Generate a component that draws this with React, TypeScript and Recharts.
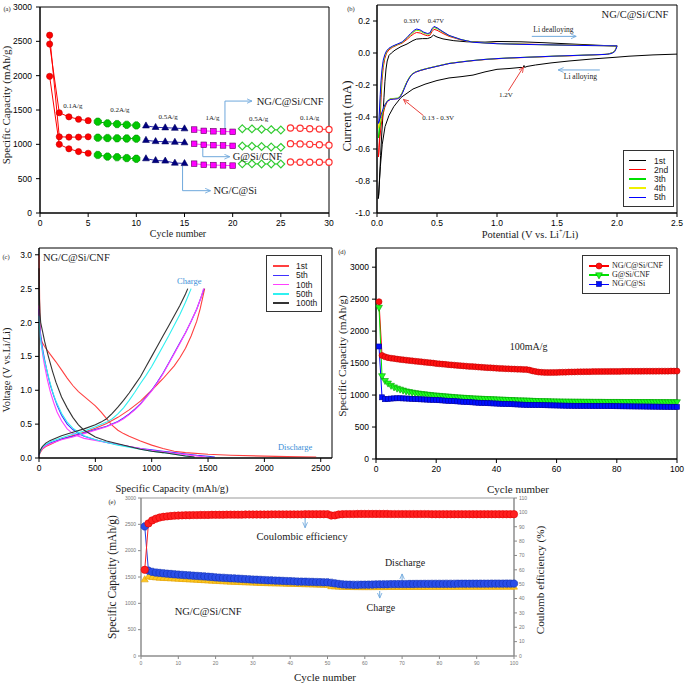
import React from "react";
import { LineChart, Line, XAxis, YAxis, ReferenceArea, ReferenceDot, ReferenceLine } from "recharts";

const SERIF = "'Liberation Serif', 'Times New Roman', serif";
const SANS = "'Liberation Sans Narrow', 'Liberation Sans', Arial, sans-serif";
const NOTE_BLUE = "#6fa8dc";
const NOTE_RED = "#e8413c";
const INK = "#1a1a1a";

type Pt = [number, number];

// ---------- (a) rate capability ----------
const rateCycles = [1, 2, 3, 4, 5, 6, 7, 8, 9, 10, 11, 12, 13, 14, 15, 16, 17, 18, 19, 20, 21, 22, 23, 24, 25, 26, 27, 28, 29, 30];
const rateSteps = ["0.1A/g", "0.2A/g", "0.5A/g", "1A/g", "0.5A/g", "0.1A/g"];
const rateCNF = [2460, 1460, 1400, 1365, 1345, 1330, 1305, 1295, 1285, 1275, 1270, 1248, 1242, 1236, 1228, 1215, 1196, 1190, 1188, 1182, 1228, 1225, 1220, 1214, 1208, 1238, 1234, 1228, 1222, 1216];
const rateGSi = [2590, 1110, 1105, 1105, 1110, 1097, 1092, 1088, 1085, 1082, 1060, 1042, 1038, 1032, 1025, 1008, 993, 988, 984, 978, 976, 972, 968, 962, 956, 1010, 1006, 1000, 994, 988];
const rateNGSi = [1990, 1000, 935, 895, 870, 845, 822, 812, 800, 790, 792, 765, 758, 728, 722, 718, 702, 698, 694, 690, 716, 716, 714, 714, 714, 743, 740, 740, 740, 740];

// ---------- (b) cyclic voltammetry, [V, mA] ----------
const cv1st: Pt[] = [
  [2.5, -0.007], [2.3, -0.012], [2.1, -0.02], [2.0, -0.026], [1.8, -0.037], [1.6, -0.05], [1.45, -0.062], [1.32, -0.075],
  [1.25, -0.084], [1.23, -0.09], [1.225, -0.078], [1.215, -0.094], [1.2, -0.09], [1.1, -0.097], [1.0, -0.102], [0.9, -0.118],
  [0.8, -0.138], [0.7, -0.148], [0.6, -0.156], [0.5, -0.172], [0.4, -0.195], [0.3, -0.225], [0.2, -0.278], [0.14, -0.335],
  [0.1, -0.39], [0.067, -0.46], [0.044, -0.57], [0.028, -0.71], [0.018, -0.82], [0.011, -0.91],
  [0.016, -0.88], [0.022, -0.78], [0.03, -0.64], [0.04, -0.5], [0.05, -0.38], [0.058, -0.28], [0.066, -0.18], [0.075, -0.1],
  [0.085, -0.05], [0.1, -0.015], [0.12, 0.0], [0.15, 0.018], [0.2, 0.04], [0.25, 0.056], [0.3, 0.078], [0.33, 0.087],
  [0.38, 0.09], [0.42, 0.09], [0.45, 0.098], [0.47, 0.112], [0.5, 0.1], [0.55, 0.088], [0.64, 0.077], [0.75, 0.07],
  [0.9, 0.068], [1.0, 0.072], [1.2, 0.07], [1.4, 0.064], [1.6, 0.057], [1.8, 0.05], [2.0, 0.043],
];
const cv2nd: Pt[] = [
  [2.0, 0.045], [1.99, 0.025], [1.97, 0.004], [1.92, -0.008], [1.7, -0.015], [1.5, -0.02], [1.3, -0.026], [1.1, -0.032],
  [1.0, -0.036], [0.9, -0.041], [0.8, -0.048], [0.7, -0.056], [0.6, -0.066], [0.5, -0.083], [0.42, -0.097], [0.36, -0.11],
  [0.32, -0.12], [0.29, -0.135], [0.27, -0.155], [0.25, -0.18], [0.23, -0.215], [0.21, -0.25], [0.19, -0.275], [0.17, -0.285],
  [0.14, -0.287], [0.11, -0.29], [0.085, -0.305], [0.065, -0.34], [0.048, -0.39], [0.035, -0.45], [0.025, -0.52], [0.017, -0.59],
  [0.012, -0.65],
  [0.016, -0.62], [0.021, -0.52], [0.027, -0.4], [0.034, -0.28], [0.042, -0.17], [0.052, -0.09], [0.065, -0.035], [0.08, 0.0],
  [0.1, 0.02], [0.13, 0.036], [0.17, 0.05], [0.21, 0.062], [0.25, 0.085], [0.28, 0.105], [0.31, 0.122], [0.33, 0.128],
  [0.36, 0.125], [0.39, 0.115], [0.42, 0.108], [0.44, 0.11], [0.46, 0.135], [0.475, 0.148], [0.5, 0.142], [0.55, 0.122],
  [0.6, 0.104], [0.7, 0.082], [0.8, 0.068], [1.0, 0.06], [1.2, 0.056], [1.5, 0.051], [1.8, 0.047], [2.0, 0.045],
];
const cv3rd: Pt[] = [
  [2.0, 0.045], [1.99, 0.025], [1.97, 0.004], [1.92, -0.008], [1.7, -0.014], [1.5, -0.019], [1.3, -0.025], [1.1, -0.031],
  [1.0, -0.035], [0.9, -0.04], [0.8, -0.047], [0.7, -0.055], [0.6, -0.065], [0.5, -0.082], [0.42, -0.096], [0.36, -0.108],
  [0.32, -0.118], [0.29, -0.132], [0.27, -0.152], [0.25, -0.178], [0.23, -0.212], [0.21, -0.248], [0.19, -0.272], [0.17, -0.282],
  [0.14, -0.284], [0.11, -0.286], [0.085, -0.3], [0.065, -0.33], [0.048, -0.37], [0.035, -0.41], [0.025, -0.46], [0.017, -0.5],
  [0.012, -0.53],
  [0.016, -0.5], [0.021, -0.42], [0.027, -0.32], [0.034, -0.22], [0.042, -0.13], [0.052, -0.065], [0.065, -0.02], [0.08, 0.008],
  [0.1, 0.026], [0.13, 0.04], [0.17, 0.053], [0.21, 0.066], [0.25, 0.092], [0.28, 0.115], [0.31, 0.135], [0.33, 0.143],
  [0.36, 0.138], [0.39, 0.125], [0.42, 0.118], [0.44, 0.12], [0.46, 0.148], [0.475, 0.16], [0.5, 0.153], [0.55, 0.13],
  [0.6, 0.108], [0.7, 0.084], [0.8, 0.068], [1.0, 0.059], [1.2, 0.055], [1.5, 0.05], [1.8, 0.047], [2.0, 0.045],
];
const cv4th: Pt[] = [
  [2.0, 0.045], [1.99, 0.024], [1.97, 0.003], [1.92, -0.008], [1.7, -0.014], [1.5, -0.019], [1.3, -0.025], [1.1, -0.031],
  [1.0, -0.035], [0.9, -0.04], [0.8, -0.047], [0.7, -0.055], [0.6, -0.065], [0.5, -0.082], [0.42, -0.096], [0.36, -0.108],
  [0.32, -0.118], [0.29, -0.133], [0.27, -0.153], [0.25, -0.18], [0.23, -0.214], [0.21, -0.25], [0.19, -0.274], [0.17, -0.283],
  [0.14, -0.285], [0.11, -0.287], [0.085, -0.3], [0.065, -0.325], [0.048, -0.36], [0.035, -0.395], [0.025, -0.43], [0.017, -0.455],
  [0.012, -0.47],
  [0.016, -0.45], [0.021, -0.38], [0.027, -0.29], [0.034, -0.2], [0.042, -0.12], [0.052, -0.06], [0.065, -0.018], [0.08, 0.01],
  [0.1, 0.027], [0.13, 0.041], [0.17, 0.054], [0.21, 0.067], [0.25, 0.094], [0.28, 0.118], [0.31, 0.138], [0.33, 0.146],
  [0.36, 0.14], [0.39, 0.127], [0.42, 0.12], [0.44, 0.122], [0.46, 0.15], [0.475, 0.163], [0.5, 0.156], [0.55, 0.132],
  [0.6, 0.109], [0.7, 0.084], [0.8, 0.067], [1.0, 0.058], [1.2, 0.054], [1.5, 0.05], [1.8, 0.046], [2.0, 0.045],
];
const cv5th: Pt[] = [
  [2.0, 0.045], [1.995, 0.03], [1.98, 0.008], [1.95, -0.004], [1.9, -0.009], [1.7, -0.014], [1.5, -0.019], [1.3, -0.025],
  [1.1, -0.031], [1.0, -0.035], [0.9, -0.04], [0.8, -0.047], [0.7, -0.056], [0.6, -0.066], [0.5, -0.083], [0.42, -0.097],
  [0.36, -0.109], [0.32, -0.12], [0.29, -0.135], [0.27, -0.156], [0.25, -0.183], [0.23, -0.218], [0.21, -0.254], [0.19, -0.277],
  [0.17, -0.286], [0.14, -0.288], [0.11, -0.29], [0.085, -0.302], [0.065, -0.325], [0.048, -0.355], [0.035, -0.385], [0.025, -0.41],
  [0.017, -0.43], [0.012, -0.44],
  [0.016, -0.42], [0.021, -0.35], [0.027, -0.26], [0.034, -0.17], [0.042, -0.1], [0.052, -0.045], [0.065, -0.01], [0.08, 0.014],
  [0.1, 0.03], [0.13, 0.043], [0.17, 0.056], [0.21, 0.069], [0.25, 0.097], [0.28, 0.122], [0.31, 0.142], [0.33, 0.15],
  [0.36, 0.144], [0.39, 0.13], [0.42, 0.122], [0.44, 0.125], [0.46, 0.153], [0.475, 0.166], [0.5, 0.158], [0.55, 0.133],
  [0.6, 0.11], [0.7, 0.084], [0.8, 0.067], [1.0, 0.058], [1.2, 0.054], [1.5, 0.05], [1.8, 0.046], [2.0, 0.045],
];

// ---------- (c) charge / discharge profiles, [mAh/g, V] ----------
const dis1st: Pt[] = [[0, 3.0], [3, 2.7], [6, 2.3], [10, 1.95], [15, 1.78], [30, 1.7], [60, 1.62], [100, 1.53], [150, 1.42], [200, 1.3], [250, 1.18], [300, 1.07], [350, 0.98], [400, 0.91], [450, 0.84], [500, 0.77], [550, 0.68], [600, 0.58], [650, 0.48], [700, 0.41], [750, 0.36], [800, 0.32], [900, 0.25], [1000, 0.19], [1100, 0.14], [1200, 0.1], [1300, 0.08], [1500, 0.055], [1700, 0.04], [2000, 0.028], [2200, 0.02], [2460, 0.015]];
const chg1st: Pt[] = [[0, 0.03], [10, 0.08], [30, 0.13], [60, 0.17], [100, 0.2], [150, 0.24], [200, 0.28], [300, 0.33], [400, 0.38], [500, 0.44], [600, 0.51], [700, 0.6], [800, 0.71], [900, 0.84], [1000, 1.0], [1100, 1.17], [1200, 1.36], [1250, 1.48], [1300, 1.62], [1350, 1.8], [1400, 2.02], [1430, 2.2], [1450, 2.35], [1470, 2.5]];
const dis5th: Pt[] = [[0, 2.2], [5, 2.0], [10, 1.88], [20, 1.75], [35, 1.58], [50, 1.45], [75, 1.25], [100, 1.08], [130, 0.92], [160, 0.78], [200, 0.63], [250, 0.5], [300, 0.42], [350, 0.36], [400, 0.32], [500, 0.27], [600, 0.23], [700, 0.2], [800, 0.17], [900, 0.14], [1000, 0.12], [1100, 0.1], [1200, 0.08], [1300, 0.06], [1400, 0.04], [1500, 0.025], [1560, 0.015]];
const chg5th: Pt[] = [[0, 0.04], [10, 0.1], [30, 0.15], [60, 0.19], [100, 0.22], [150, 0.25], [200, 0.28], [300, 0.32], [400, 0.37], [500, 0.42], [600, 0.47], [700, 0.54], [750, 0.59], [800, 0.65], [850, 0.72], [900, 0.8], [950, 0.9], [1000, 1.0], [1050, 1.12], [1100, 1.25], [1150, 1.4], [1200, 1.55], [1250, 1.7], [1300, 1.85], [1350, 2.02], [1400, 2.2], [1440, 2.38], [1465, 2.5]];
const dis10th: Pt[] = [[0, 2.25], [5, 1.95], [10, 1.82], [20, 1.68], [35, 1.5], [50, 1.36], [75, 1.15], [100, 0.98], [130, 0.82], [160, 0.68], [200, 0.55], [250, 0.43], [300, 0.36], [350, 0.32], [400, 0.29], [500, 0.26], [600, 0.23], [700, 0.2], [800, 0.17], [900, 0.14], [1000, 0.11], [1100, 0.09], [1200, 0.07], [1300, 0.05], [1400, 0.03], [1480, 0.015]];
const chg10th: Pt[] = [[0, 0.04], [10, 0.1], [30, 0.14], [60, 0.18], [100, 0.21], [150, 0.24], [200, 0.27], [300, 0.31], [400, 0.36], [500, 0.41], [600, 0.46], [700, 0.53], [750, 0.58], [800, 0.64], [850, 0.71], [900, 0.79], [950, 0.89], [1000, 0.99], [1050, 1.11], [1100, 1.24], [1150, 1.39], [1200, 1.54], [1250, 1.69], [1300, 1.85], [1350, 2.02], [1400, 2.2], [1440, 2.38], [1460, 2.5]];
const dis50th: Pt[] = [[0, 2.1], [5, 1.9], [10, 1.8], [20, 1.68], [40, 1.5], [60, 1.36], [90, 1.16], [120, 0.98], [150, 0.84], [200, 0.66], [250, 0.53], [300, 0.44], [350, 0.38], [400, 0.33], [500, 0.27], [600, 0.23], [700, 0.19], [800, 0.16], [900, 0.13], [1000, 0.1], [1100, 0.08], [1200, 0.055], [1300, 0.03], [1370, 0.015]];
const chg50th: Pt[] = [[0, 0.04], [10, 0.1], [30, 0.16], [60, 0.2], [100, 0.24], [200, 0.3], [300, 0.35], [400, 0.4], [500, 0.46], [600, 0.53], [650, 0.58], [700, 0.65], [750, 0.74], [800, 0.85], [850, 0.97], [900, 1.1], [950, 1.22], [1000, 1.35], [1050, 1.5], [1100, 1.65], [1150, 1.8], [1200, 1.96], [1250, 2.12], [1300, 2.3], [1350, 2.5]];
const dis100th: Pt[] = [[0, 2.8], [3, 2.4], [8, 2.15], [15, 2.0], [30, 1.88], [50, 1.72], [80, 1.52], [120, 1.28], [150, 1.12], [200, 0.9], [250, 0.74], [300, 0.6], [350, 0.49], [400, 0.41], [500, 0.31], [600, 0.25], [700, 0.21], [800, 0.17], [900, 0.13], [1000, 0.1], [1100, 0.08], [1200, 0.055], [1300, 0.03], [1380, 0.015]];
const chg100th: Pt[] = [[0, 0.04], [10, 0.11], [30, 0.17], [60, 0.22], [100, 0.26], [200, 0.33], [300, 0.38], [400, 0.43], [500, 0.49], [550, 0.53], [600, 0.58], [650, 0.66], [700, 0.75], [750, 0.85], [800, 0.96], [850, 1.08], [900, 1.2], [950, 1.35], [1000, 1.5], [1050, 1.65], [1100, 1.8], [1150, 1.95], [1200, 2.1], [1250, 2.25], [1300, 2.42], [1320, 2.5]];

// ---------- (d) / (e) cycling at 100 mA/g ----------
const cycles100 = Array.from({ length: 100 }, (_, i) => i + 1);
const cycCNF = [
  2460, 1620, 1598, 1585, 1577, 1570, 1563, 1557, 1551, 1546,
  1540, 1535, 1530, 1525, 1520, 1515, 1510, 1505, 1500, 1492,
  1488, 1484, 1480, 1476, 1472, 1468, 1464, 1460, 1456, 1452,
  1448, 1445, 1442, 1438, 1435, 1432, 1429, 1426, 1423, 1420,
  1417, 1414, 1412, 1410, 1408, 1406, 1404, 1402, 1400, 1398,
  1390, 1378, 1368, 1360, 1356, 1354, 1352, 1352, 1353, 1354,
  1355, 1357, 1358, 1360, 1361, 1362, 1363, 1364, 1365, 1366,
  1366, 1367, 1367, 1368, 1368, 1369, 1369, 1370, 1370, 1370,
  1370, 1371, 1371, 1371, 1372, 1372, 1372, 1372, 1373, 1373,
  1373, 1373, 1373, 1374, 1374, 1374, 1374, 1375, 1375, 1375,
];
const cycGSi = [
  2370, 1300, 1225, 1185, 1150, 1125, 1105, 1090, 1075, 1062,
  1052, 1043, 1035, 1028, 1022, 1016, 1010, 1005, 1000, 996,
  992, 988, 984, 980, 976, 972, 968, 965, 962, 959,
  956, 953, 950, 948, 946, 944, 942, 940, 938, 936,
  934, 932, 930, 928, 926, 924, 922, 921, 920, 918,
  916, 914, 912, 910, 909, 908, 907, 906, 905, 904,
  903, 902, 902, 901, 901, 900, 900, 900, 899, 899,
  899, 898, 898, 898, 898, 897, 897, 897, 897, 897,
  897, 896, 896, 896, 896, 895, 895, 895, 895, 895,
  895, 894, 894, 894, 894, 894, 893, 893, 893, 893,
];
const cycNGSi = [
  1760, 965, 935, 940, 945, 948, 950, 950, 948, 946,
  944, 941, 938, 935, 933, 931, 929, 927, 925, 922,
  919, 916, 913, 910, 907, 904, 901, 898, 895, 892,
  889, 886, 883, 880, 877, 875, 873, 871, 869, 867,
  865, 863, 861, 859, 857, 855, 853, 851, 849, 847,
  846, 845, 844, 843, 842, 841, 840, 839, 838, 837,
  836, 835, 834, 833, 833, 832, 832, 831, 831, 830,
  830, 829, 829, 828, 828, 827, 827, 826, 826, 825,
  825, 824, 824, 823, 823, 822, 822, 821, 821, 820,
  820, 819, 819, 818, 818, 817, 817, 816, 816, 815,
];
const cycCharge = [
  1450, 1505, 1495, 1488, 1482, 1478, 1474, 1470, 1466, 1462,
  1458, 1454, 1450, 1446, 1442, 1438, 1434, 1430, 1426, 1422,
  1418, 1414, 1410, 1407, 1404, 1401, 1398, 1395, 1392, 1389,
  1386, 1383, 1380, 1378, 1376, 1374, 1372, 1370, 1368, 1366,
  1364, 1362, 1360, 1358, 1356, 1354, 1352, 1350, 1348, 1346,
  1320, 1316, 1312, 1308, 1306, 1305, 1304, 1304, 1303, 1303,
  1303, 1303, 1304, 1304, 1304, 1305, 1305, 1305, 1306, 1306,
  1306, 1306, 1307, 1307, 1307, 1307, 1308, 1308, 1308, 1308,
  1308, 1309, 1309, 1309, 1309, 1309, 1310, 1310, 1310, 1310,
  1310, 1310, 1311, 1311, 1311, 1311, 1311, 1312, 1312, 1312,
];
const cycCE = [
  60, 92.3, 94.4, 95.6, 96.4, 96.9, 97.2, 97.5, 97.7, 97.8,
  97.9, 98.0, 98.0, 98.1, 98.1, 98.2, 98.2, 98.2, 98.3, 98.3,
  98.3, 98.3, 98.4, 98.4, 98.4, 98.4, 98.4, 98.5, 98.5, 98.5,
  98.5, 98.5, 98.5, 98.5, 98.6, 98.6, 98.6, 98.6, 98.6, 98.6,
  98.6, 98.6, 98.6, 98.7, 98.7, 98.7, 98.7, 98.7, 98.7, 98.7,
  97.8, 97.9, 98.5, 98.7, 98.8, 98.8, 98.8, 98.9, 98.9, 98.9,
  98.9, 98.9, 98.9, 98.9, 98.9, 98.9, 98.8, 98.8, 98.8, 98.8,
  98.8, 98.8, 98.8, 98.8, 98.8, 98.8, 98.8, 98.7, 98.7, 98.7,
  98.7, 98.7, 98.7, 98.7, 98.7, 98.7, 98.7, 98.7, 98.7, 98.7,
  98.7, 98.7, 98.7, 98.7, 98.7, 98.7, 98.7, 98.7, 98.7, 98.7,
];

// ---------- helpers ----------
const toXY = (pts: Pt[]) => pts.map(([x, y]) => ({ x, y }));
const byCycle = (xs: number[], ys: number[]) => xs.map((x, i) => ({ x, y: ys[i] }));

type Box = { l: number; t: number; w: number; h: number };
type Plot = { l: number; t: number; r: number; b: number };
const fit = (box: Box, plot: Plot, yw: number, xh: number, yw2 = 0) => ({
  top: plot.t - box.t,
  left: plot.l - box.l - yw,
  right: box.l + box.w - plot.r - yw2,
  bottom: box.t + box.h - plot.b - xh,
});

const TICK = { fontSize: 8.5, fill: "#000", fontFamily: SANS };

function Mark({ cx, cy, kind, color, edge, open, s }: any) {
  if (cx == null || cy == null) return null;
  const fill = open ? "#fff" : color;
  const stroke = open ? color : edge || color;
  const sw = open ? 1.2 : 0.6;
  if (kind === "circle") return <circle cx={cx} cy={cy} r={s} fill={fill} stroke={stroke} strokeWidth={sw} />;
  if (kind === "square")
    return <rect x={cx - s} y={cy - s} width={2 * s} height={2 * s} fill={fill} stroke={stroke} strokeWidth={sw} />;
  let pts: number[][];
  if (kind === "tri") pts = [[0, -1.25], [1.1, 0.7], [-1.1, 0.7]];
  else if (kind === "dtri") pts = [[0, 1.25], [1.1, -0.7], [-1.1, -0.7]];
  else if (kind === "diamond") pts = [[0, -1.25], [1.25, 0], [0, 1.25], [-1.25, 0]];
  else pts = [[-0.45, -1.1], [0.45, -1.1], [1.1, -0.45], [1.1, 0.45], [0.45, 1.1], [-0.45, 1.1], [-1.1, 0.45], [-1.1, -0.45]];
  return (
    <polygon
      points={pts.map(([a, b]) => `${cx + a * s},${cy + b * s}`).join(" ")}
      fill={fill}
      stroke={stroke}
      strokeWidth={sw}
    />
  );
}

const note = (key: string, x: number, y: number, text: string, size: number, color = INK, yId?: string, pos = "center") => (
  <ReferenceDot
    key={key}
    x={x}
    y={y}
    r={0}
    {...(yId ? { yAxisId: yId } : {})}
    ifOverflow="visible"
    fill="none"
    stroke="none"
    label={{ value: text, position: pos, offset: 0, fill: color, fontSize: size, fontFamily: SERIF }}
  />
);

const arrow = (key: string, pts: Pt[], color: string, yId?: string) =>
  pts.slice(1).map((p, i) => (
    <ReferenceLine
      key={`${key}-${i}`}
      segment={[{ x: pts[i][0], y: pts[i][1] }, { x: p[0], y: p[1] }]}
      stroke={color}
      strokeWidth={1}
      ifOverflow="visible"
      {...(yId ? { yAxisId: yId } : {})}
      {...(i === pts.length - 2 ? { markerEnd: `url(#${color === NOTE_RED ? "arrR" : "arrB"})` } : {})}
    />
  ));

function Txt({ x, y, size, children, rotate = false, family = SERIF, color = INK }: any) {
  return (
    <div
      style={{
        position: "absolute",
        left: x,
        top: y,
        transform: `translate(-50%, -50%)${rotate ? " rotate(-90deg)" : ""}`,
        fontSize: size,
        fontFamily: family,
        color,
        whiteSpace: "nowrap",
        lineHeight: 1,
      }}
    >
      {children}
    </div>
  );
}

// ---------- panel (a) ----------
const SEGMENTS = [
  { from: 0, to: 5, line: "#ff0000", mark: { kind: "circle", color: "#ff0000", edge: "#c00000", s: 3.1 } },
  { from: 5, to: 10, line: "#00c000", mark: { kind: "oct", color: "#00c800", edge: "#009000", s: 3.3 } },
  { from: 10, to: 15, line: "#2a2aa8", mark: { kind: "tri", color: "#000080", edge: "#000060", s: 3.1 } },
  { from: 15, to: 20, line: "#ff40ff", mark: { kind: "square", color: "#ff00ff", edge: "#600060", s: 2.8 } },
  { from: 20, to: 25, line: "#33cc33", mark: { kind: "diamond", color: "#33cc33", open: true, s: 3.1 } },
  { from: 25, to: 30, line: "#ff3030", mark: { kind: "circle", color: "#ff3030", open: true, s: 3.1 } },
];
const RATE_LABEL_AT: Pt[] = [[3.4, 1560], [8.3, 1500], [13.3, 1400], [17.9, 1385], [22.7, 1370], [28.0, 1385]];
const boxA: Box = { l: 0, t: 0, w: 345, h: 245 };
const plotA: Plot = { l: 40, t: 7, r: 329, b: 213 };

function PanelA() {
  const series = [rateCNF, rateGSi, rateNGSi];
  return (
    <LineChart width={boxA.w} height={boxA.h} margin={fit(boxA, plotA, 40, 20)}>
      <XAxis type="number" dataKey="x" domain={[0, 30]} ticks={[0, 5, 10, 15, 20, 25, 30]} interval={0} height={20} tickSize={4} tickMargin={3} stroke="#000" tick={TICK} />
      <YAxis type="number" domain={[0, 3000]} ticks={[0, 500, 1000, 1500, 2000, 2500, 3000]} interval={0} width={40} tickSize={4} tickMargin={4} stroke="#000" tick={TICK} />
      <ReferenceArea x1={0} x2={30} y1={0} y2={3000} fill="none" stroke="#000" strokeWidth={1} />
      {series.flatMap((vals, si) =>
        SEGMENTS.map((seg, gi) => (
          <Line
            key={`a${si}-${gi}`}
            data={byCycle(rateCycles.slice(seg.from, seg.to), vals.slice(seg.from, seg.to))}
            dataKey="y"
            type="linear"
            stroke={seg.line}
            strokeWidth={1}
            isAnimationActive={false}
            activeDot={false}
            dot={(p: any) => <Mark key={p.index} cx={p.cx} cy={p.cy} {...seg.mark} />}
          />
        ))
      )}
      {rateSteps.map((t, i) => note(`r${i}`, RATE_LABEL_AT[i][0], RATE_LABEL_AT[i][1], t, 7))}
      {arrow("n1", [[19.2, 1185], [19.2, 1630], [22.0, 1630]], NOTE_BLUE)}
      {arrow("n2", [[16.9, 990], [16.9, 820], [19.7, 820]], NOTE_BLUE)}
      {arrow("n3", [[14.8, 689], [14.8, 325], [17.7, 325]], NOTE_BLUE)}
      {note("l1", 22.5, 1630, "NG/C@Si/CNF", 10.5, INK, undefined, "right")}
      {note("l2", 20.0, 820, "G@Si/CNF", 10.5, INK, undefined, "right")}
      {note("l3", 18.0, 325, "NG/C@Si", 10.5, INK, undefined, "right")}
    </LineChart>
  );
}

// ---------- panel (b) ----------
const CV_CYCLES = [
  { name: "1st", pts: cv1st, color: "#000000" },
  { name: "2nd", pts: cv2nd, color: "#ff0000" },
  { name: "3th", pts: cv3rd, color: "#00e000" },
  { name: "4th", pts: cv4th, color: "#f0f000" },
  { name: "5th", pts: cv5th, color: "#0000ff" },
];
const boxB: Box = { l: 340, t: 0, w: 345, h: 245 };
const plotB: Plot = { l: 377, t: 5, r: 677, b: 213 };

function PanelB() {
  return (
    <LineChart width={boxB.w} height={boxB.h} margin={fit(boxB, plotB, 30, 20)}>
      <XAxis type="number" dataKey="x" domain={[0, 2.5]} ticks={[0, 0.5, 1, 1.5, 2, 2.5]} tickFormatter={(v) => v.toFixed(1)} interval={0} height={20} tickSize={4} tickMargin={3} stroke="#000" tick={TICK} />
      <YAxis type="number" domain={[-1, 0.3]} ticks={[-1, -0.8, -0.6, -0.4, -0.2, 0, 0.2]} tickFormatter={(v) => v.toFixed(1)} interval={0} width={30} tickSize={4} tickMargin={3} stroke="#000" tick={TICK} />
      <ReferenceArea x1={0} x2={2.5} y1={-1} y2={0.3} fill="none" stroke="#000" strokeWidth={1} />
      {CV_CYCLES.map((c) => (
        <Line key={c.name} data={toXY(c.pts)} dataKey="y" type="linear" stroke={c.color} strokeWidth={1} dot={false} activeDot={false} isAnimationActive={false} />
      ))}
      {note("p1", 0.29, 0.205, "0.33V", 6.5)}
      {note("p2", 0.49, 0.205, "0.47V", 6.5)}
      {note("t", 2.15, 0.24, "NG/C@Si/CNF", 10.5)}
      {note("d", 1.47, 0.145, "Li dealloying", 7.5)}
      {arrow("da", [[1.29, 0.104], [1.66, 0.104]], NOTE_BLUE)}
      {note("a", 1.695, -0.148, "Li alloying", 7.5)}
      {arrow("aa", [[1.857, -0.106], [1.51, -0.106]], NOTE_BLUE)}
      {note("v1", 1.075, -0.26, "1.2V", 7)}
      {arrow("va", [[1.095, -0.236], [1.22, -0.088]], NOTE_RED)}
      {note("v2", 0.51, -0.405, "0.13 - 0.3V", 7)}
      {arrow("vb", [[0.388, -0.392], [0.22, -0.29]], NOTE_RED)}
    </LineChart>
  );
}

// ---------- panel (c) ----------
const GCD_CYCLES = [
  { name: "1st", dis: dis1st, chg: chg1st, color: "#ff4040" },
  { name: "5th", dis: dis5th, chg: chg5th, color: "#4030ff" },
  { name: "10th", dis: dis10th, chg: chg10th, color: "#ff40ff" },
  { name: "50th", dis: dis50th, chg: chg50th, color: "#30f0f0" },
  { name: "100th", dis: dis100th, chg: chg100th, color: "#333333" },
];
const boxC: Box = { l: 0, t: 240, w: 345, h: 245 };
const plotC: Plot = { l: 39, t: 248, r: 332, b: 458 };

function PanelC() {
  return (
    <LineChart width={boxC.w} height={boxC.h} margin={fit(boxC, plotC, 32, 20)}>
      <XAxis type="number" dataKey="x" domain={[0, 2600]} ticks={[0, 500, 1000, 1500, 2000, 2500]} interval={0} height={20} tickSize={4} tickMargin={3} stroke="#000" tick={TICK} />
      <YAxis type="number" domain={[0, 3.1]} ticks={[0, 0.5, 1, 1.5, 2, 2.5, 3]} tickFormatter={(v) => v.toFixed(1)} interval={0} width={32} tickSize={4} tickMargin={3} stroke="#000" tick={TICK} />
      <ReferenceArea x1={0} x2={2600} y1={0} y2={3.1} fill="none" stroke="#000" strokeWidth={1} />
      {GCD_CYCLES.flatMap((c) => [
        <Line key={`${c.name}d`} data={toXY(c.dis)} dataKey="y" type="linear" stroke={c.color} strokeWidth={1.1} dot={false} activeDot={false} isAnimationActive={false} />,
        <Line key={`${c.name}c`} data={toXY(c.chg)} dataKey="y" type="linear" stroke={c.color} strokeWidth={1.1} dot={false} activeDot={false} isAnimationActive={false} />,
      ])}
      {note("t", 35, 2.96, "NG/C@Si/CNF", 10.5, INK, undefined, "right")}
      {note("ch", 1333, 2.62, "Charge", 8.5, "#3a8fd8")}
      {note("dc", 2272, 0.167, "Discharge", 8.5, "#3a8fd8")}
    </LineChart>
  );
}

// ---------- panel (d) ----------
const CYC_SERIES = [
  { name: "NG/C@Si/CNF", vals: cycCNF, line: "#ff0000", mark: { kind: "circle", color: "#ff1010", edge: "#c00000", s: 3 } },
  { name: "G@Si/CNF", vals: cycGSi, line: "#00e000", mark: { kind: "dtri", color: "#20ff20", edge: "#00a000", s: 3.1 } },
  { name: "NG/C@Si", vals: cycNGSi, line: "#0000ff", mark: { kind: "square", color: "#0010ff", edge: "#0000a0", s: 2.5 } },
];
const boxD: Box = { l: 340, t: 240, w: 345, h: 245 };
const plotD: Plot = { l: 376, t: 248, r: 677, b: 459 };

function PanelD() {
  return (
    <LineChart width={boxD.w} height={boxD.h} margin={fit(boxD, plotD, 30, 20)}>
      <XAxis type="number" dataKey="x" domain={[0, 100]} ticks={[0, 20, 40, 60, 80, 100]} interval={0} height={20} tickSize={4} tickMargin={3} stroke="#000" tick={TICK} />
      <YAxis type="number" domain={[0, 3300]} ticks={[0, 500, 1000, 1500, 2000, 2500, 3000]} interval={0} width={30} tickSize={4} tickMargin={3} stroke="#000" tick={TICK} />
      <ReferenceArea x1={0} x2={100} y1={0} y2={3300} fill="none" stroke="#000" strokeWidth={1} />
      {CYC_SERIES.map((s) => (
        <Line
          key={s.name}
          data={byCycle(cycles100, s.vals)}
          dataKey="y"
          type="linear"
          stroke={s.line}
          strokeWidth={1}
          isAnimationActive={false}
          activeDot={false}
          dot={(p: any) => <Mark key={p.index} cx={p.cx} cy={p.cy} {...s.mark} />}
        />
      ))}
      {note("r", 50.7, 1757, "100mA/g", 10)}
    </LineChart>
  );
}

// ---------- panel (e) ----------
const boxE: Box = { l: 90, t: 480, w: 500, h: 205 };
const plotE: Plot = { l: 141, t: 498, r: 514, b: 656 };
const TICK_E = { fontSize: 5, fill: "#777", fontFamily: SANS };

function PanelE() {
  return (
    <LineChart width={boxE.w} height={boxE.h} margin={fit(boxE, plotE, 25, 15, 20)}>
      <XAxis type="number" dataKey="x" domain={[0, 100]} ticks={[0, 10, 20, 30, 40, 50, 60, 70, 80, 90, 100]} interval={0} height={15} tickSize={3} tickMargin={2} stroke="#888" tick={TICK_E} />
      <YAxis yAxisId="l" type="number" domain={[0, 3000]} ticks={[0, 500, 1000, 1500, 2000, 2500, 3000]} interval={0} width={25} tickSize={3} tickMargin={2} stroke="#888" tick={TICK_E} />
      <YAxis yAxisId="r" orientation="right" type="number" domain={[0, 110]} ticks={[0, 10, 20, 30, 40, 50, 60, 70, 80, 90, 100, 110]} interval={0} width={20} tickSize={3} tickMargin={2} stroke="#888" tick={TICK_E} />
      <ReferenceArea yAxisId="l" x1={0} x2={100} y1={0} y2={3000} fill="none" stroke="#999" strokeWidth={1} />
      <Line yAxisId="l" data={byCycle(cycles100, cycCharge)} dataKey="y" type="linear" stroke="#ffc000" strokeWidth={1} isAnimationActive={false} activeDot={false}
        dot={(p: any) => <Mark key={p.index} cx={p.cx} cy={p.cy} kind="tri" color="#ffc820" edge="#e0a000" s={3.2} />} />
      <Line yAxisId="l" data={byCycle(cycles100, cycCNF)} dataKey="y" type="linear" stroke="#2040e0" strokeWidth={1} isAnimationActive={false} activeDot={false}
        dot={(p: any) => <Mark key={p.index} cx={p.cx} cy={p.cy} kind="oct" color="#2a4ee8" edge="#1030b0" s={3.3} />} />
      <Line yAxisId="r" data={byCycle(cycles100, cycCE)} dataKey="y" type="linear" stroke="#ff2020" strokeWidth={1} isAnimationActive={false} activeDot={false}
        dot={(p: any) => <Mark key={p.index} cx={p.cx} cy={p.cy} kind="circle" color="#ff2020" edge="#e00000" s={3.7} />} />
      {note("ce", 43.2, 2264, "Coulombic efficiency", 10.5, INK, "l")}
      {arrow("cea", [[44, 2626], [44, 2436]], NOTE_BLUE, "l")}
      {note("dc", 70.8, 1768, "Discharge", 10, INK, "l")}
      {arrow("dca", [[70, 1406], [70, 1558]], NOTE_BLUE, "l")}
      {note("ch", 64.3, 929, "Charge", 10, INK, "l")}
      {arrow("cha", [[64, 1234], [64, 1100]], NOTE_BLUE, "l")}
      {note("t", 18, 853, "NG/C@Si/CNF", 10.5, INK, "l")}
    </LineChart>
  );
}

// ---------- legends ----------
function LegendBox({ left, top, width, height, items, padTop, rowH, lineX, lineW, textX, size, family }: any) {
  return (
    <div style={{ position: "absolute", left, top, width, height, border: "1px solid #333", background: "#fff", boxSizing: "border-box" }}>
      {items.map((it: any, i: number) => {
        const y = padTop + i * rowH;
        return (
          <React.Fragment key={it.name}>
            <div style={{ position: "absolute", left: lineX, top: y - 0.75, width: lineW, height: 1.5, background: it.color }} />
            {it.mark && (
              <svg style={{ position: "absolute", left: lineX + lineW / 2 - 5, top: y - 5 }} width={10} height={10}>
                <Mark cx={5} cy={5} {...it.mark} />
              </svg>
            )}
            <div style={{ position: "absolute", left: textX, top: y, transform: "translateY(-50%)", fontSize: size, fontFamily: family, lineHeight: 1, whiteSpace: "nowrap", color: INK }}>
              {it.name}
            </div>
          </React.Fragment>
        );
      })}
    </div>
  );
}

export default function App() {
  return (
    <div style={{ position: "absolute", left: 0, top: 0, width: 685, height: 685, background: "#fff", overflow: "hidden" }}>
      <svg width={0} height={0} style={{ position: "absolute" }}>
        <defs>
          <marker id="arrB" viewBox="0 0 10 10" refX="9" refY="5" markerWidth="6" markerHeight="6" orient="auto">
            <path d="M0,1 L9,5 L0,9" fill="none" stroke={NOTE_BLUE} strokeWidth="1.4" />
          </marker>
          <marker id="arrR" viewBox="0 0 10 10" refX="9" refY="5" markerWidth="6" markerHeight="6" orient="auto">
            <path d="M0,1 L9,5 L0,9" fill="none" stroke={NOTE_RED} strokeWidth="1.4" />
          </marker>
        </defs>
      </svg>
      <div style={{ position: "absolute", left: boxA.l, top: boxA.t }}><PanelA /></div>
      <div style={{ position: "absolute", left: boxB.l, top: boxB.t }}><PanelB /></div>
      <div style={{ position: "absolute", left: boxC.l, top: boxC.t }}><PanelC /></div>
      <div style={{ position: "absolute", left: boxD.l, top: boxD.t }}><PanelD /></div>
      <div style={{ position: "absolute", left: boxE.l, top: boxE.t }}><PanelE /></div>

      <LegendBox left={623} top={150} width={51} height={57} items={CV_CYCLES} padTop={9.5} rowH={9.2} lineX={5} lineW={17} textX={30} size={8.5} family={SANS} />
      <LegendBox left={266} top={255} width={56} height={57} items={GCD_CYCLES} padTop={10} rowH={9.3} lineX={6} lineW={16} textX={29} size={8.5} family={SANS} />
      <LegendBox left={582} top={255} width={88} height={39} items={CYC_SERIES.map((s) => ({ name: s.name, color: s.line, mark: s.mark }))} padTop={10} rowH={9.2} lineX={6} lineW={20} textX={29} size={8} family={SERIF} />

      <Txt x={7} y={9} size={6.5}>(a)</Txt>
      <Txt x={6} y={105} size={11} rotate>Specific Capacity (mAh/g)</Txt>
      <Txt x={178} y={234} size={10}>Cycle number</Txt>

      <Txt x={351} y={9} size={6.5}>(b)</Txt>
      <Txt x={346} y={116} size={13} rotate>Current (mA)</Txt>
      <Txt x={530} y={235} size={10.5}>
        Potential (V vs. Li<sup style={{ fontSize: "0.6em", lineHeight: 0 }}>+</sup>/Li)
      </Txt>

      <Txt x={6} y={257} size={6.5}>(c)</Txt>
      <Txt x={7} y={370} size={10.5} rotate>Voltage (V vs.Li/Li)</Txt>
      <Txt x={172} y={489} size={10.5}>Specific Capacity (mAh/g)</Txt>

      <Txt x={342} y={252} size={6.5}>(d)</Txt>
      <Txt x={343} y={356} size={11.3} rotate>Specific Capacity (mAh/g)</Txt>
      <Txt x={518} y={489} size={11}>Cycle number</Txt>

      <Txt x={112} y={502} size={6.5}>(e)</Txt>
      <Txt x={113} y={577} size={11.5} rotate>Specific Capacity (mAh/g)</Txt>
      <Txt x={541} y={580} size={11.2} rotate>Coulomb efficiency (%)</Txt>
      <Txt x={325} y={677} size={11}>Cycle number</Txt>
    </div>
  );
}
